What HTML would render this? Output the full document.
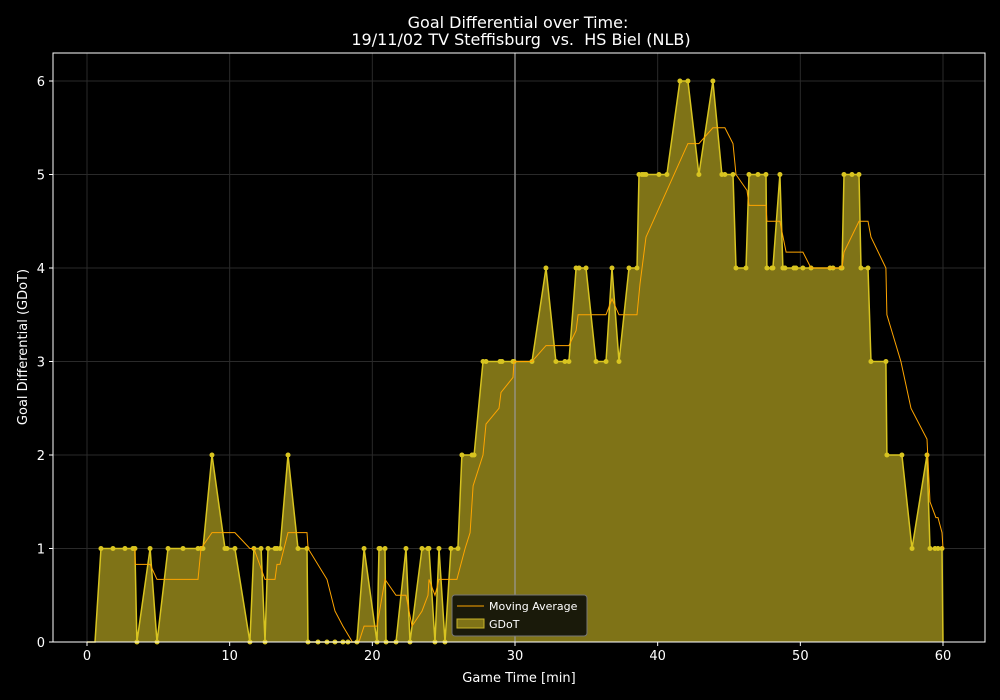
<!DOCTYPE html>
<html><head><meta charset="utf-8"><style>
html,body{margin:0;padding:0;background:#000;}
svg{display:block;font-family:"DejaVu Sans","Liberation Sans",sans-serif;}
</style></head><body>
<svg id="chart" width="1000" height="700">
<rect width="1000" height="700" fill="#000"/>
<text x="518" y="28" fill="#fff" font-size="16" text-anchor="middle">Goal Differential over Time:</text>
<text x="521" y="45" fill="#fff" font-size="16" text-anchor="middle" style="white-space:pre" xml:space="preserve">19/11/02 TV Steffisburg  vs.  HS Biel (NLB)</text>
<g id="grid"></g><g id="marks"></g><g id="axes"></g>
<text x="519" y="682" fill="#fff" font-size="13" text-anchor="middle">Game Time [min]</text>
<text transform="translate(27,347) rotate(-90)" fill="#fff" font-size="13" text-anchor="middle">Goal Differential (GDoT)</text>
<g>
<rect x="452" y="595" width="135" height="41" rx="3" fill="#1a1a0a" stroke="#777" stroke-width="1"/>
<line x1="457" y1="606" x2="484" y2="606" stroke="#ffa500" stroke-width="1"/>
<text x="489" y="610" fill="#fff" font-size="11">Moving Average</text>
<rect x="457" y="619" width="27" height="9" fill="#7f7317" stroke="#c8b428" stroke-width="1"/>
<text x="489" y="628" fill="#fff" font-size="11">GDoT</text>
</g>
</svg>
<script>
const gdotT=[0,0.56,0.98,1.82,2.66,3.22,3.36,3.5,4.42,4.91,5.68,6.73,7.78,7.99,8.13,8.76,9.67,9.81,10.37,11.42,11.7,12.2,12.48,12.69,13.18,13.32,13.53,14.09,14.79,15.42,15.49,16.19,16.82,17.38,17.94,18.29,18.92,19.42,20.33,20.47,20.54,20.89,20.96,21.66,22.36,22.64,23.48,23.9,23.97,24.39,24.67,25.09,25.51,26.0,26.28,26.99,27.13,27.76,27.97,28.95,29.09,29.86,29.93,31.19,32.17,32.87,33.5,33.78,34.28,34.49,34.98,35.68,36.38,36.8,37.29,37.99,38.55,38.69,38.9,39.04,39.18,40.09,40.65,41.56,42.12,42.89,43.87,44.5,44.71,45.28,45.49,46.19,46.4,47.03,47.59,47.66,48.01,48.08,48.57,48.78,48.92,49.55,49.69,50.18,50.75,52.08,52.29,52.85,52.92,53.06,53.62,54.11,54.25,54.74,54.95,56.0,56.07,57.12,57.83,58.88,59.09,59.44,59.65,59.93,60];
const gdotV=[0,0,1,1,1,1,1,0,1,0,1,1,1,1,1,2,1,1,1,0,1,1,0,1,1,1,1,2,1,1,0,0,0,0,0,0,0,1,0,1,1,1,0,0,1,0,1,1,1,0,1,0,1,1,2,2,2,3,3,3,3,3,3,3,4,3,3,3,4,4,4,3,3,4,3,4,4,5,5,5,5,5,5,6,6,5,6,5,5,5,4,4,5,5,5,4,4,4,5,4,4,4,4,4,4,4,4,4,4,5,5,5,4,4,3,3,2,2,1,2,1,1,1,1,0];
const maT=[3.36,3.37,4.42,4.91,7.78,7.99,8.76,10.37,11.42,11.7,12.48,13.18,13.32,13.53,14.09,15.42,15.5,16.82,17.38,17.94,18.6,19.06,19.42,20.33,20.89,21.66,22.36,22.78,23.48,23.9,23.97,24.39,24.67,25.93,26.5,26.85,27.06,27.76,27.97,28.88,29.02,29.86,29.93,31.19,32.17,33.78,34.28,34.42,36.38,36.8,37.29,38.55,38.76,39.18,42.12,42.89,43.87,44.71,45.28,45.49,46.26,46.4,47.59,47.66,48.57,49.0,50.18,50.75,52.92,53.06,54.11,54.74,54.95,56.0,56.07,57.05,57.76,58.88,59.09,59.5,59.65,59.93,60];
const maV=[1,0.83,0.83,0.67,0.67,1.0,1.17,1.17,1.0,1.0,0.67,0.67,0.83,0.83,1.17,1.17,1.0,0.67,0.33,0.17,0,0,0.17,0.17,0.67,0.5,0.5,0.17,0.33,0.5,0.67,0.5,0.67,0.67,1.0,1.17,1.67,2.0,2.33,2.5,2.67,2.83,3.0,3.0,3.17,3.17,3.33,3.5,3.5,3.67,3.5,3.5,3.83,4.33,5.33,5.33,5.5,5.5,5.33,5.0,4.83,4.67,4.67,4.5,4.5,4.17,4.17,4.0,4.0,4.17,4.5,4.5,4.33,4.0,3.5,3.0,2.5,2.17,1.5,1.33,1.33,1.17,1.0];
const xTicks=[0,10,20,30,40,50,60];
const yTicks=[0,1,2,3,4,5,6];
const NS='http://www.w3.org/2000/svg';
const L=53,R=985,T=53,B=642;
const xs=t=>87+t*(943-87)/60;
const ys=v=>642-v*(642-81)/6;
function mk(tag,attrs,parent){const e=document.createElementNS(NS,tag);for(const k in attrs)e.setAttribute(k,attrs[k]);parent.appendChild(e);return e;}
const grid=document.getElementById('grid'),marks=document.getElementById('marks'),axes=document.getElementById('axes');
xTicks.forEach(t=>{const g=mk('line',{x1:xs(t),x2:xs(t),y1:T,y2:B,stroke:'#2a2a2a','stroke-width':1},grid);


mk('line',{x1:xs(t),x2:xs(t),y1:B,y2:B+4,stroke:'#fff'},axes);
const tx=mk('text',{x:xs(t),y:B+18,fill:'#fff','font-size':13,'text-anchor':'middle'},axes);tx.textContent=t;

});
yTicks.forEach(v=>{const g=mk('line',{x1:L,x2:R,y1:ys(v),y2:ys(v),stroke:'#2a2a2a','stroke-width':1},grid);


mk('line',{x1:L-4,x2:L,y1:ys(v),y2:ys(v),stroke:'#fff'},axes);
const tx=mk('text',{x:L-8,y:ys(v)+5,fill:'#fff','font-size':13,'text-anchor':'end'},axes);tx.textContent=v;

});
let pts=gdotT.map((t,i)=>xs(t).toFixed(1)+','+ys(gdotV[i]).toFixed(1));
const area=mk('polygon',{points:xs(0)+','+ys(0)+' '+pts.join(' ')+' '+xs(60)+','+ys(0),fill:'#7f7317',stroke:'none'},marks);


const vl=mk('line',{x1:xs(30),x2:xs(30),y1:T,y2:B,stroke:'#999','stroke-opacity':0.6,'stroke-width':2},marks);


const gl=mk('polyline',{points:pts.join(' '),fill:'none',stroke:'#d8c420','stroke-width':1.5},marks);


gdotT.forEach((t,i)=>{if(i<2||i===gdotT.length-1)return;const c=mk('circle',{cx:xs(t),cy:ys(gdotV[i]),r:2.5,fill:'#d8c420'},marks);

});
const ma=mk('polyline',{points:maT.map((t,i)=>xs(t).toFixed(1)+','+ys(maV[i]).toFixed(1)).join(' '),fill:'none',stroke:'#ffa500','stroke-width':1},marks);


const fr=mk('rect',{x:L,y:T,width:R-L,height:B-T,fill:'none',stroke:'#fff','stroke-width':1},axes);


</script>
</body></html>
